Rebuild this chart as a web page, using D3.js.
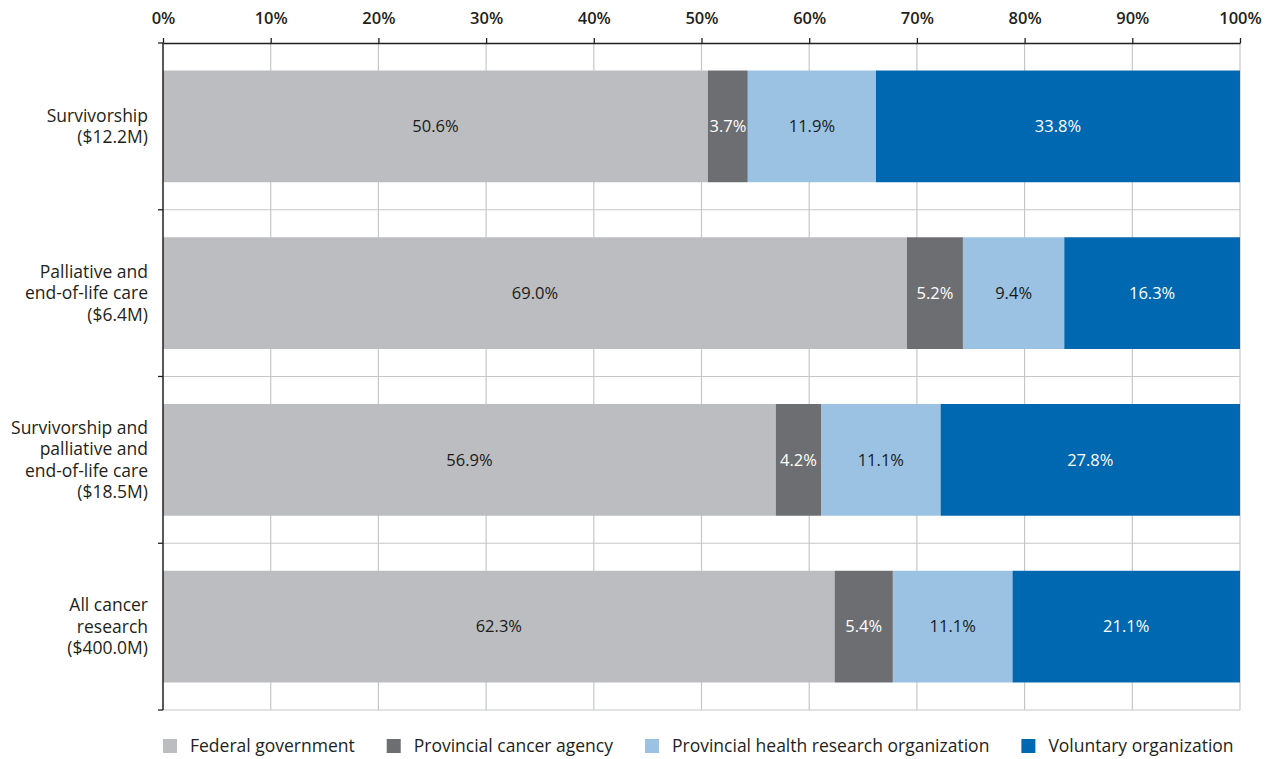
<!DOCTYPE html>
<html>
<head>
<meta charset="utf-8">
<script src="https://cdn.jsdelivr.net/npm/d3@7"></script>
<style>
  html, body { margin: 0; padding: 0; background: #fff; }
  svg { display: block; font-family: "Open Sans", "Noto Sans", sans-serif; }
</style>
</head>
<body>
<svg id="chart" width="1272" height="759"></svg>
<script>
const categories = [
  ["Survivorship", "($12.2M)"],
  ["Palliative and", "end-of-life care", "($6.4M)"],
  ["Survivorship and", "palliative and", "end-of-life care", "($18.5M)"],
  ["All cancer", "research", "($400.0M)"]
];
const seriesNames = ["Federal government", "Provincial cancer agency", "Provincial health research organization", "Voluntary organization"];
const federal    = [50.6, 69.0, 56.9, 62.3];
const provCancer = [3.7, 5.2, 4.2, 5.4];
const provHealth = [11.9, 9.4, 11.1, 11.1];
const voluntary  = [33.8, 16.3, 27.8, 21.1];
const tickValues = [0, 10, 20, 30, 40, 50, 60, 70, 80, 90, 100];

const colors = ["#bcbdc0", "#6d6e71", "#9bc2e2", "#0067b1"];
const textColors = ["#1a1a1a", "#ffffff", "#1a1a1a", "#ffffff"];

const seriesValues = [federal, provCancer, provHealth, voluntary];
const rows = categories.map((c, i) => {
  const o = { key: i };
  seriesNames.forEach((s, j) => o[s] = seriesValues[j][i]);
  return o;
});

const svg = d3.select("#chart");
const margin = { left: 163, right: 32, top: 43, bottom: 49 };
const W = 1272, H = 759;
const x = d3.scaleLinear().domain([0, 100]).range([margin.left, W - margin.right]);
const y = d3.scaleBand().domain(d3.range(categories.length)).range([margin.top, H - margin.bottom]).paddingInner(0.33).paddingOuter(0.165);
const yOuter = d3.scaleBand().domain(d3.range(categories.length)).range([margin.top, H - margin.bottom]);

const stack = d3.stack().keys(seriesNames).offset(d3.stackOffsetExpand);
const stacked = stack(rows);

// vertical gridlines
svg.append("g").selectAll("line").data(tickValues.slice(1)).join("line")
  .attr("x1", d => x(d)).attr("x2", d => x(d))
  .attr("y1", margin.top).attr("y2", H - margin.bottom)
  .attr("stroke", "#c6c7c9").attr("stroke-width", 1.2);

// horizontal gridlines at category boundaries
const boundaries = d3.range(1, categories.length + 1).map(i => yOuter(i - 1) + yOuter.bandwidth());
svg.append("g").selectAll("line").data(boundaries).join("line")
  .attr("x1", margin.left).attr("x2", W - margin.right)
  .attr("y1", d => d).attr("y2", d => d)
  .attr("stroke", "#c6c7c9").attr("stroke-width", 1.2);

// bars
const g = svg.append("g");
stacked.forEach((layer, j) => {
  g.append("g").attr("fill", colors[j]).selectAll("rect").data(layer).join("rect")
    .attr("x", d => x(d[0] * 100))
    .attr("width", d => x(d[1] * 100) - x(d[0] * 100))
    .attr("y", (d, i) => y(i))
    .attr("height", y.bandwidth());
  g.append("g").selectAll("text").data(layer).join("text")
    .attr("x", d => (x(d[0] * 100) + x(d[1] * 100)) / 2)
    .attr("y", (d, i) => y(i) + y.bandwidth() / 2)
    .attr("dy", "0.35em")
    .attr("text-anchor", "middle")
    .attr("fill", textColors[j])
    .attr("font-size", 16.5)
    .text((d, i) => seriesValues[j][i].toFixed(1) + "%");
});

// top axis
const xAxis = d3.axisTop(x).tickValues(tickValues).tickFormat(d => d + "%").tickSize(5).tickSizeOuter(0);
const ax = svg.append("g").attr("transform", `translate(0,${margin.top})`).call(xAxis);
ax.select(".domain").attr("stroke", "#231f20").attr("stroke-width", 1.3);
ax.selectAll(".tick line").attr("stroke", "#231f20").attr("stroke-width", 1.3);
ax.selectAll(".tick text").attr("font-size", 16.5).attr("font-weight", 600).attr("fill", "#231f20")
  .attr("font-family", "'Open Sans', sans-serif").attr("y", -19);

// left axis
svg.append("line").attr("x1", margin.left).attr("x2", margin.left)
  .attr("y1", margin.top).attr("y2", H - margin.bottom)
  .attr("stroke", "#231f20").attr("stroke-width", 1.5);
svg.append("g").selectAll("line").data([margin.top].concat(boundaries)).join("line")
  .attr("x1", margin.left - 5).attr("x2", margin.left)
  .attr("y1", d => d).attr("y2", d => d)
  .attr("stroke", "#231f20").attr("stroke-width", 1.3);

// category labels
const lab = svg.append("g");
categories.forEach((lines, i) => {
  const cy = y(i) + y.bandwidth() / 2;
  const lh = 21.5;
  const t = lab.append("text").attr("text-anchor", "end").attr("font-size", 17.5).attr("fill", "#231f20");
  lines.forEach((ln, k) => {
    t.append("tspan").attr("x", 148)
      .attr("y", cy + (k - (lines.length - 1) / 2) * lh)
      .attr("dy", "0.35em").text(ln);
  });
});

// legend
const leg = svg.append("g");
let lx = 163;
const ly = 746;
seriesNames.forEach((s, j) => {
  leg.append("rect").attr("x", lx).attr("y", ly - 7).attr("width", 14).attr("height", 14).attr("fill", colors[j]);
  const t = leg.append("text").attr("x", lx + 27).attr("y", ly).attr("dy", "0.35em")
    .attr("font-size", 17.5).attr("fill", "#231f20").text(s);
  lx = lx + 27 + t.node().getComputedTextLength() + 32;
});
</script>
</body>
</html>
